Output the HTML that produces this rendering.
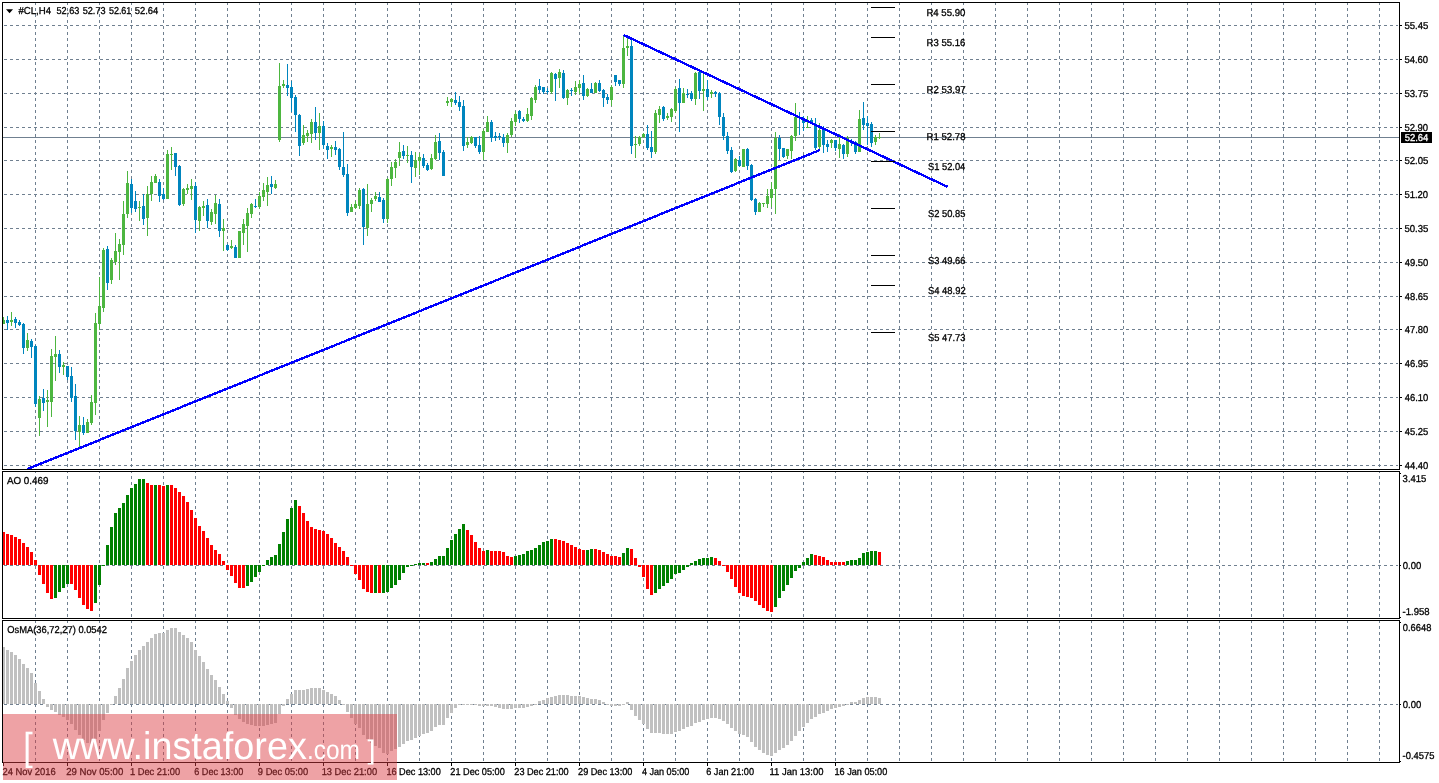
<!DOCTYPE html>
<html lang="en"><head><meta charset="utf-8"><title>#CL,H4</title>
<style>html,body{margin:0;padding:0;background:#fff;overflow:hidden}svg{display:block}text{font-family:"Liberation Sans",Arial,sans-serif;font-size:10px;fill:#000;stroke:#000;stroke-width:0.3px;text-rendering:geometricPrecision}.g{stroke:#708090;stroke-width:1;fill:none;shape-rendering:crispEdges}.k{stroke:#000;stroke-width:1;fill:none;shape-rendering:crispEdges}.c{shape-rendering:crispEdges}</style></head><body>
<svg width="1439" height="783" viewBox="0 0 1439 783">
<rect width="1439" height="783" fill="#fff"/>
<path class="g" stroke-dasharray="3 3" d="M35.5 2V762M67.5 2V762M99.5 2V762M131.5 2V762M163.5 2V762M195.5 2V762M227.5 2V762M259.5 2V762M291.5 2V762M323.5 2V762M355.5 2V762M387.5 2V762M419.5 2V762M451.5 2V762M483.5 2V762M515.5 2V762M547.5 2V762M579.5 2V762M611.5 2V762M643.5 2V762M675.5 2V762M707.5 2V762M739.5 2V762M771.5 2V762M803.5 2V762M835.5 2V762M867.5 2V762M899.5 2V762M931.5 2V762M963.5 2V762M995.5 2V762M1027.5 2V762M1059.5 2V762M1091.5 2V762M1123.5 2V762M1155.5 2V762M1187.5 2V762M1219.5 2V762M1251.5 2V762M1283.5 2V762M1315.5 2V762M1347.5 2V762M1379.5 2V762"/>
<path class="c" fill="#fff" d="M0 470h1439v1h-1439zM0 619h1439v1h-1439z"/>
<path class="g" stroke-dasharray="3 3" d="M4 25.5H1398M4 59.5H1398M4 93.5H1398M4 127.5H1398M4 160.5H1398M4 194.5H1398M4 228.5H1398M4 262.5H1398M4 296.5H1398M4 329.5H1398M4 363.5H1398M4 397.5H1398M4 431.5H1398M4 465.5H1398M4 565.5H1398M4 704.5H1398"/>
<path class="g" d="M3 137.5H1399"/>
<path class="c" fill="#4DB640" d="M3 317h1v7h-1zM3 320h2v4h-2zM11 312h1v14h-1zM10 320h3v2h-3zM27 333h1v18h-1zM26 340h3v8h-3zM39 396h1v40h-1zM38 399h3v19h-3zM47 390h1v37h-1zM46 400h3v2h-3zM51 349h1v68h-1zM50 356h3v46h-3zM55 336h1v45h-1zM54 354h3v3h-3zM63 362h1v13h-1zM62 365h3v2h-3zM79 416h1v31h-1zM78 425h3v7h-3zM87 419h1v14h-1zM86 422h3v11h-3zM91 395h1v30h-1zM90 402h3v21h-3zM95 313h1v102h-1zM94 323h3v80h-3zM99 277h1v53h-1zM98 306h3v18h-3zM103 248h1v64h-1zM102 250h3v58h-3zM111 258h1v26h-1zM110 260h3v20h-3zM115 233h1v32h-1zM114 251h3v11h-3zM119 239h1v41h-1zM118 244h3v8h-3zM123 201h1v54h-1zM122 214h3v31h-3zM127 171h1v47h-1zM126 183h3v31h-3zM139 201h1v20h-1zM138 207h3v1h-3zM147 186h1v50h-1zM146 194h3v24h-3zM151 176h1v25h-1zM150 182h3v12h-3zM155 174h1v9h-1zM154 176h3v7h-3zM167 150h1v49h-1zM166 154h3v45h-3zM171 147h1v23h-1zM170 154h3v1h-3zM183 188h1v18h-1zM182 189h3v15h-3zM187 184h1v10h-1zM186 188h3v2h-3zM191 179h1v21h-1zM190 186h3v3h-3zM199 206h1v25h-1zM198 207h3v14h-3zM203 201h1v15h-1zM202 206h3v2h-3zM211 209h1v16h-1zM210 212h3v10h-3zM215 195h1v29h-1zM214 203h3v11h-3zM223 219h1v32h-1zM222 228h3v3h-3zM231 240h1v9h-1zM230 246h3v2h-3zM239 231h1v27h-1zM238 231h3v27h-3zM243 219h1v26h-1zM242 224h3v9h-3zM247 208h1v44h-1zM246 213h3v13h-3zM251 203h1v15h-1zM250 204h3v10h-3zM259 192h1v17h-1zM258 196h3v11h-3zM263 183h1v18h-1zM262 190h3v7h-3zM267 177h1v29h-1zM266 185h3v7h-3zM275 180h1v9h-1zM274 184h3v4h-3zM279 63h1v79h-1zM278 86h3v54h-3zM283 80h1v8h-1zM282 84h3v2h-3zM303 125h1v20h-1zM302 135h3v8h-3zM307 130h1v12h-1zM306 133h3v3h-3zM311 119h1v24h-1zM310 122h3v12h-3zM319 113h1v37h-1zM318 126h3v7h-3zM331 145h1v12h-1zM330 147h3v2h-3zM351 204h1v8h-1zM350 207h3v5h-3zM355 201h1v8h-1zM354 204h3v4h-3zM359 188h1v21h-1zM358 190h3v16h-3zM367 184h1v52h-1zM366 204h3v24h-3zM371 198h1v14h-1zM370 200h3v4h-3zM375 192h1v9h-1zM374 196h3v3h-3zM387 178h1v45h-1zM386 179h3v40h-3zM391 162h1v24h-1zM390 167h3v12h-3zM395 159h1v19h-1zM394 162h3v6h-3zM399 142h1v24h-1zM398 152h3v6h-3zM407 146h1v17h-1zM406 155h3v1h-3zM415 152h1v25h-1zM414 160h3v8h-3zM419 153h1v22h-1zM418 157h3v4h-3zM431 154h1v16h-1zM430 158h3v11h-3zM435 135h1v25h-1zM434 142h3v17h-3zM447 97h1v9h-1zM446 101h3v2h-3zM451 98h1v9h-1zM450 99h3v3h-3zM467 137h1v11h-1zM466 142h3v3h-3zM471 136h1v8h-1zM470 137h3v6h-3zM483 129h1v31h-1zM482 131h3v21h-3zM487 116h1v16h-1zM486 122h3v10h-3zM507 133h1v20h-1zM506 135h3v8h-3zM511 118h1v19h-1zM510 121h3v14h-3zM515 111h1v15h-1zM514 114h3v8h-3zM527 108h1v14h-1zM526 114h3v7h-3zM531 97h1v23h-1zM530 98h3v18h-3zM535 85h1v18h-1zM534 87h3v13h-3zM551 72h1v22h-1zM550 73h3v19h-3zM559 69h1v19h-1zM558 72h3v6h-3zM567 89h1v16h-1zM566 90h3v8h-3zM575 81h1v14h-1zM574 87h3v5h-3zM579 80h1v14h-1zM578 84h3v4h-3zM587 88h1v9h-1zM586 89h3v7h-3zM595 82h1v11h-1zM594 83h3v10h-3zM611 85h1v21h-1zM610 87h3v13h-3zM623 35h1v53h-1zM622 48h3v36h-3zM627 38h1v18h-1zM626 46h3v2h-3zM635 136h1v22h-1zM634 144h3v1h-3zM639 136h1v10h-1zM638 137h3v7h-3zM643 133h1v5h-1zM642 134h3v3h-3zM655 110h1v44h-1zM654 113h3v39h-3zM659 106h1v17h-1zM658 109h3v6h-3zM667 113h1v7h-1zM666 116h3v2h-3zM671 108h1v14h-1zM670 109h3v8h-3zM675 87h1v26h-1zM674 89h3v22h-3zM683 88h1v15h-1zM682 93h3v10h-3zM695 72h1v33h-1zM694 73h3v26h-3zM703 73h1v38h-1zM702 89h3v2h-3zM711 90h1v8h-1zM710 92h3v2h-3zM735 158h1v14h-1zM734 159h3v12h-3zM743 149h1v18h-1zM742 149h3v18h-3zM759 202h1v10h-1zM758 203h3v9h-3zM763 203h1v4h-1zM762 203h3v1h-3zM767 189h1v19h-1zM766 196h3v8h-3zM771 182h1v25h-1zM770 189h3v9h-3zM775 132h1v82h-1zM774 138h3v51h-3zM787 149h1v10h-1zM786 149h3v7h-3zM791 135h1v24h-1zM790 136h3v15h-3zM795 103h1v38h-1zM794 117h3v19h-3zM807 116h1v12h-1zM806 127h3v1h-3zM819 123h1v26h-1zM818 130h3v17h-3zM831 139h1v9h-1zM830 140h3v3h-3zM839 134h1v24h-1zM838 144h3v5h-3zM847 136h1v21h-1zM846 138h3v16h-3zM859 110h1v42h-1zM858 119h3v33h-3zM875 135h1v10h-1zM874 137h3v5h-3zM879 133h1v6h-1zM878 137h3v1h-3z"/>
<path class="c" fill="#0085BE" d="M7 316h1v14h-1zM6 320h3v3h-3zM15 317h1v11h-1zM14 319h3v4h-3zM19 320h1v6h-1zM18 322h3v3h-3zM23 323h1v31h-1zM22 324h3v24h-3zM31 339h1v19h-1zM30 341h3v6h-3zM35 345h1v62h-1zM34 346h3v58h-3zM43 389h1v22h-1zM42 398h3v5h-3zM59 350h1v23h-1zM58 354h3v13h-3zM67 366h1v14h-1zM66 366h3v11h-3zM71 367h1v35h-1zM70 376h3v22h-3zM75 384h1v56h-1zM74 396h3v35h-3zM83 417h1v18h-1zM82 425h3v8h-3zM107 246h1v44h-1zM106 249h3v34h-3zM131 179h1v34h-1zM130 184h3v24h-3zM135 191h1v21h-1zM134 201h3v8h-3zM143 194h1v31h-1zM142 206h3v13h-3zM159 179h1v23h-1zM158 182h3v14h-3zM163 188h1v12h-1zM162 194h3v5h-3zM175 153h1v23h-1zM174 153h3v14h-3zM179 165h1v41h-1zM178 166h3v39h-3zM195 182h1v51h-1zM194 186h3v34h-3zM207 199h1v29h-1zM206 205h3v16h-3zM219 199h1v38h-1zM218 204h3v27h-3zM227 244h1v7h-1zM226 245h3v5h-3zM235 245h1v13h-1zM234 247h3v11h-3zM255 199h1v9h-1zM254 206h3v1h-3zM271 176h1v18h-1zM270 184h3v3h-3zM287 64h1v32h-1zM286 85h3v3h-3zM291 81h1v31h-1zM290 87h3v11h-3zM295 95h1v37h-1zM294 97h3v18h-3zM299 114h1v42h-1zM298 115h3v31h-3zM315 107h1v33h-1zM314 122h3v11h-3zM323 121h1v28h-1zM322 126h3v19h-3zM327 143h1v16h-1zM326 146h3v4h-3zM335 141h1v14h-1zM334 147h3v3h-3zM339 148h1v22h-1zM338 149h3v18h-3zM343 132h1v45h-1zM342 167h3v8h-3zM347 164h1v52h-1zM346 174h3v39h-3zM363 188h1v57h-1zM362 189h3v38h-3zM379 192h1v10h-1zM378 197h3v5h-3zM383 198h1v25h-1zM382 200h3v19h-3zM403 145h1v14h-1zM402 151h3v5h-3zM411 151h1v32h-1zM410 155h3v12h-3zM423 154h1v14h-1zM422 158h3v8h-3zM427 163h1v8h-1zM426 165h3v5h-3zM439 133h1v27h-1zM438 141h3v12h-3zM443 150h1v26h-1zM442 152h3v24h-3zM455 92h1v13h-1zM454 100h3v3h-3zM459 96h1v15h-1zM458 102h3v5h-3zM463 100h1v51h-1zM462 106h3v40h-3zM475 137h1v11h-1zM474 137h3v9h-3zM479 136h1v18h-1zM478 145h3v7h-3zM491 120h1v22h-1zM490 122h3v16h-3zM495 132h1v9h-1zM494 136h3v2h-3zM499 133h1v7h-1zM498 136h3v1h-3zM503 134h1v13h-1zM502 137h3v6h-3zM519 110h1v13h-1zM518 111h3v8h-3zM523 117h1v5h-1zM522 119h3v2h-3zM539 79h1v14h-1zM538 86h3v4h-3zM543 87h1v7h-1zM542 87h3v5h-3zM547 88h1v6h-1zM546 91h3v1h-3zM555 73h1v28h-1zM554 74h3v5h-3zM563 70h1v29h-1zM562 73h3v25h-3zM571 88h1v8h-1zM570 90h3v1h-3zM583 75h1v25h-1zM582 83h3v13h-3zM591 83h1v10h-1zM590 89h3v4h-3zM599 80h1v12h-1zM598 83h3v8h-3zM603 89h1v18h-1zM602 90h3v8h-3zM607 94h1v10h-1zM606 97h3v3h-3zM615 75h1v11h-1zM614 75h3v7h-3zM619 80h1v6h-1zM618 80h3v4h-3zM631 40h1v114h-1zM630 46h3v100h-3zM647 125h1v25h-1zM646 134h3v14h-3zM651 131h1v27h-1zM650 147h3v5h-3zM663 106h1v15h-1zM662 107h3v12h-3zM679 79h1v53h-1zM678 88h3v15h-3zM687 89h1v9h-1zM686 94h3v1h-3zM691 91h1v10h-1zM690 93h3v6h-3zM699 72h1v27h-1zM698 72h3v19h-3zM707 80h1v20h-1zM706 89h3v8h-3zM715 91h1v6h-1zM714 92h3v2h-3zM719 92h1v33h-1zM718 93h3v24h-3zM723 113h1v27h-1zM722 117h3v19h-3zM727 132h1v22h-1zM726 136h3v15h-3zM731 147h1v26h-1zM730 150h3v22h-3zM739 156h1v11h-1zM738 160h3v6h-3zM747 148h1v22h-1zM746 149h3v17h-3zM751 164h1v37h-1zM750 165h3v35h-3zM755 198h1v17h-1zM754 199h3v13h-3zM779 135h1v25h-1zM778 138h3v11h-3zM783 148h1v10h-1zM782 148h3v9h-3zM799 112h1v23h-1zM798 117h3v1h-3zM803 116h1v15h-1zM802 120h3v3h-3zM811 118h1v6h-1zM810 120h3v3h-3zM815 118h1v32h-1zM814 126h3v22h-3zM823 126h1v27h-1zM822 129h3v16h-3zM827 140h1v12h-1zM826 144h3v3h-3zM835 140h1v11h-1zM834 140h3v8h-3zM843 144h1v15h-1zM842 145h3v9h-3zM851 139h1v7h-1zM850 141h3v1h-3zM855 141h1v13h-1zM854 142h3v10h-3zM863 102h1v28h-1zM862 118h3v7h-3zM867 116h1v29h-1zM866 123h3v3h-3zM871 122h1v25h-1zM870 124h3v19h-3z"/>
<path class="c" fill="#FF0000" d="M3 532h2v33h-2zM6 534h3v31h-3zM10 535h3v30h-3zM14 537h3v28h-3zM18 539h3v26h-3zM22 543h3v22h-3zM26 547h3v18h-3zM30 552h3v13h-3zM34 560h3v5h-3zM38 565h3v10h-3zM42 565h3v19h-3zM46 565h3v28h-3zM50 565h3v34h-3zM70 565h3v19h-3zM74 565h3v25h-3zM78 565h3v33h-3zM82 565h3v40h-3zM86 565h3v44h-3zM90 565h3v46h-3zM146 483h3v82h-3zM150 485h3v80h-3zM158 485h3v80h-3zM162 486h3v79h-3zM170 485h3v80h-3zM174 488h3v77h-3zM178 492h3v73h-3zM182 496h3v69h-3zM186 502h3v63h-3zM190 510h3v55h-3zM194 518h3v47h-3zM198 526h3v39h-3zM202 531h3v34h-3zM206 538h3v27h-3zM210 545h3v20h-3zM214 550h3v15h-3zM218 554h3v11h-3zM222 561h3v4h-3zM226 565h3v5h-3zM230 565h3v11h-3zM234 565h3v18h-3zM238 565h3v23h-3zM242 565h3v23h-3zM298 506h3v59h-3zM302 513h3v52h-3zM306 521h3v44h-3zM310 527h3v38h-3zM314 529h3v36h-3zM318 530h3v35h-3zM322 531h3v34h-3zM326 534h3v31h-3zM330 538h3v27h-3zM334 543h3v22h-3zM338 547h3v18h-3zM342 551h3v14h-3zM346 557h3v8h-3zM350 565h3v1h-3zM354 565h3v9h-3zM358 565h3v15h-3zM362 565h3v24h-3zM366 565h3v27h-3zM370 565h3v28h-3zM378 565h3v28h-3zM426 563h3v2h-3zM466 530h3v35h-3zM470 535h3v30h-3zM474 542h3v23h-3zM478 548h3v17h-3zM482 551h3v14h-3zM490 551h3v14h-3zM494 551h3v14h-3zM498 551h3v14h-3zM502 552h3v13h-3zM506 556h3v9h-3zM510 557h3v8h-3zM554 539h3v26h-3zM558 540h3v25h-3zM562 541h3v24h-3zM566 543h3v22h-3zM570 545h3v20h-3zM574 547h3v18h-3zM578 549h3v16h-3zM582 550h3v15h-3zM594 549h3v16h-3zM598 550h3v15h-3zM602 552h3v13h-3zM606 554h3v11h-3zM610 556h3v9h-3zM614 556h3v9h-3zM618 557h3v8h-3zM630 549h3v16h-3zM634 558h3v7h-3zM638 565h3v2h-3zM642 565h3v12h-3zM646 565h3v24h-3zM650 565h3v30h-3zM714 558h3v7h-3zM718 561h3v4h-3zM722 565h3v1h-3zM726 565h3v7h-3zM730 565h3v14h-3zM734 565h3v22h-3zM738 565h3v28h-3zM742 565h3v31h-3zM746 565h3v32h-3zM750 565h3v33h-3zM754 565h3v36h-3zM758 565h3v40h-3zM762 565h3v43h-3zM766 565h3v46h-3zM770 565h3v47h-3zM814 555h3v10h-3zM818 556h3v9h-3zM822 557h3v8h-3zM826 560h3v5h-3zM830 562h3v3h-3zM834 562h3v3h-3zM838 562h3v3h-3zM842 562h3v3h-3zM878 552h3v13h-3z"/>
<path class="c" fill="#008000" d="M54 565h3v33h-3zM58 565h3v27h-3zM62 565h3v23h-3zM66 565h3v19h-3zM94 565h3v38h-3zM98 565h3v20h-3zM102 565h3v1h-3zM106 545h3v20h-3zM110 527h3v38h-3zM114 513h3v52h-3zM118 508h3v57h-3zM122 503h3v62h-3zM126 495h3v70h-3zM130 488h3v77h-3zM134 484h3v81h-3zM138 479h3v86h-3zM142 479h3v86h-3zM154 485h3v80h-3zM166 485h3v80h-3zM246 565h3v21h-3zM250 565h3v17h-3zM254 565h3v12h-3zM258 565h3v7h-3zM262 565h3v1h-3zM266 560h3v5h-3zM270 557h3v8h-3zM274 555h3v10h-3zM278 544h3v21h-3zM282 532h3v33h-3zM286 519h3v46h-3zM290 508h3v57h-3zM294 500h3v65h-3zM374 565h3v28h-3zM382 565h3v28h-3zM386 565h3v27h-3zM390 565h3v23h-3zM394 565h3v20h-3zM398 565h3v15h-3zM402 565h3v8h-3zM406 565h3v2h-3zM410 565h3v1h-3zM414 564h3v1h-3zM418 563h3v2h-3zM422 563h3v2h-3zM430 562h3v3h-3zM434 559h3v6h-3zM438 556h3v9h-3zM442 556h3v9h-3zM446 548h3v17h-3zM450 540h3v25h-3zM454 534h3v31h-3zM458 529h3v36h-3zM462 524h3v41h-3zM486 550h3v15h-3zM514 556h3v9h-3zM518 555h3v10h-3zM522 554h3v11h-3zM526 551h3v14h-3zM530 550h3v15h-3zM534 548h3v17h-3zM538 545h3v20h-3zM542 542h3v23h-3zM546 541h3v24h-3zM550 539h3v26h-3zM586 550h3v15h-3zM590 549h3v16h-3zM622 553h3v12h-3zM626 548h3v17h-3zM654 565h3v28h-3zM658 565h3v24h-3zM662 565h3v21h-3zM666 565h3v18h-3zM670 565h3v14h-3zM674 565h3v9h-3zM678 565h3v8h-3zM682 565h3v5h-3zM686 565h3v2h-3zM690 563h3v2h-3zM694 561h3v4h-3zM698 559h3v6h-3zM702 558h3v7h-3zM706 558h3v7h-3zM710 557h3v8h-3zM774 565h3v42h-3zM778 565h3v33h-3zM782 565h3v26h-3zM786 565h3v20h-3zM790 565h3v13h-3zM794 565h3v6h-3zM798 565h3v3h-3zM802 562h3v3h-3zM806 558h3v7h-3zM810 554h3v11h-3zM846 561h3v4h-3zM850 560h3v5h-3zM854 560h3v5h-3zM858 558h3v7h-3zM862 553h3v12h-3zM866 552h3v13h-3zM870 551h3v14h-3zM874 551h3v14h-3z"/>
<path class="c" fill="#C0C0C0" d="M3 647h2v57h-2zM6 650h3v54h-3zM10 652h3v52h-3zM14 655h3v49h-3zM18 659h3v45h-3zM22 664h3v40h-3zM26 668h3v36h-3zM30 673h3v31h-3zM34 683h3v21h-3zM38 691h3v13h-3zM42 699h3v5h-3zM46 704h3v3h-3zM50 704h3v6h-3zM54 704h3v8h-3zM58 704h3v11h-3zM62 704h3v13h-3zM66 704h3v16h-3zM70 704h3v20h-3zM74 704h3v26h-3zM78 704h3v31h-3zM82 704h3v36h-3zM86 704h3v39h-3zM90 704h3v40h-3zM94 704h3v35h-3zM98 704h3v27h-3zM102 704h3v16h-3zM106 704h3v9h-3zM110 704h3v1h-3zM114 696h3v8h-3zM118 688h3v16h-3zM122 679h3v25h-3zM126 668h3v36h-3zM130 661h3v43h-3zM134 655h3v49h-3zM138 650h3v54h-3zM142 646h3v58h-3zM146 642h3v62h-3zM150 638h3v66h-3zM154 634h3v70h-3zM158 633h3v71h-3zM162 633h3v71h-3zM166 630h3v74h-3zM170 628h3v76h-3zM174 628h3v76h-3zM178 632h3v72h-3zM182 635h3v69h-3zM186 638h3v66h-3zM190 642h3v62h-3zM194 650h3v54h-3zM198 656h3v48h-3zM202 662h3v42h-3zM206 669h3v35h-3zM210 675h3v29h-3zM214 680h3v24h-3zM218 687h3v17h-3zM222 694h3v10h-3zM226 701h3v3h-3zM230 704h3v4h-3zM234 704h3v11h-3zM238 704h3v15h-3zM242 704h3v18h-3zM246 704h3v20h-3zM250 704h3v21h-3zM254 704h3v22h-3zM258 704h3v22h-3zM262 704h3v22h-3zM266 704h3v21h-3zM270 704h3v20h-3zM274 704h3v19h-3zM278 704h3v10h-3zM282 704h3v2h-3zM286 699h3v5h-3zM290 694h3v10h-3zM294 690h3v14h-3zM298 690h3v14h-3zM302 690h3v14h-3zM306 689h3v15h-3zM310 688h3v16h-3zM314 688h3v16h-3zM318 688h3v16h-3zM322 690h3v14h-3zM326 692h3v12h-3zM330 694h3v10h-3zM334 696h3v8h-3zM338 700h3v4h-3zM342 704h3v1h-3zM346 704h3v8h-3zM350 704h3v14h-3zM354 704h3v20h-3zM358 704h3v24h-3zM362 704h3v31h-3zM366 704h3v35h-3zM370 704h3v39h-3zM374 704h3v42h-3zM378 704h3v44h-3zM382 704h3v49h-3zM386 704h3v50h-3zM390 704h3v47h-3zM394 704h3v45h-3zM398 704h3v43h-3zM402 704h3v40h-3zM406 704h3v37h-3zM410 704h3v36h-3zM414 704h3v34h-3zM418 704h3v32h-3zM422 704h3v30h-3zM426 704h3v29h-3zM430 704h3v27h-3zM434 704h3v23h-3zM438 704h3v21h-3zM442 704h3v21h-3zM446 704h3v14h-3zM450 704h3v9h-3zM454 704h3v4h-3zM458 704h3v1h-3zM462 704h3v1h-3zM466 704h3v1h-3zM470 704h3v1h-3zM474 704h3v1h-3zM478 704h3v2h-3zM482 704h3v2h-3zM486 704h3v2h-3zM490 704h3v2h-3zM494 704h3v3h-3zM498 704h3v4h-3zM502 704h3v5h-3zM506 704h3v5h-3zM510 704h3v5h-3zM514 704h3v4h-3zM518 704h3v4h-3zM522 704h3v4h-3zM526 704h3v3h-3zM530 704h3v2h-3zM534 704h3v1h-3zM538 701h3v3h-3zM542 700h3v4h-3zM546 698h3v6h-3zM550 697h3v7h-3zM554 696h3v8h-3zM558 695h3v9h-3zM562 695h3v9h-3zM566 695h3v9h-3zM570 696h3v8h-3zM574 696h3v8h-3zM578 696h3v8h-3zM582 697h3v7h-3zM586 698h3v6h-3zM590 699h3v5h-3zM594 699h3v5h-3zM598 700h3v4h-3zM602 702h3v2h-3zM606 704h3v1h-3zM610 704h3v2h-3zM614 704h3v2h-3zM618 704h3v2h-3zM622 704h3v1h-3zM626 702h3v2h-3zM630 704h3v6h-3zM634 704h3v12h-3zM638 704h3v16h-3zM642 704h3v20h-3zM646 704h3v25h-3zM650 704h3v29h-3zM654 704h3v29h-3zM658 704h3v29h-3zM662 704h3v30h-3zM666 704h3v30h-3zM670 704h3v30h-3zM674 704h3v28h-3zM678 704h3v27h-3zM682 704h3v25h-3zM686 704h3v23h-3zM690 704h3v22h-3zM694 704h3v19h-3zM698 704h3v18h-3zM702 704h3v16h-3zM706 704h3v15h-3zM710 704h3v14h-3zM714 704h3v14h-3zM718 704h3v15h-3zM722 704h3v17h-3zM726 704h3v20h-3zM730 704h3v24h-3zM734 704h3v27h-3zM738 704h3v30h-3zM742 704h3v31h-3zM746 704h3v33h-3zM750 704h3v38h-3zM754 704h3v43h-3zM758 704h3v46h-3zM762 704h3v49h-3zM766 704h3v51h-3zM770 704h3v52h-3zM774 704h3v49h-3zM778 704h3v46h-3zM782 704h3v44h-3zM786 704h3v41h-3zM790 704h3v37h-3zM794 704h3v32h-3zM798 704h3v27h-3zM802 704h3v23h-3zM806 704h3v19h-3zM810 704h3v15h-3zM814 704h3v13h-3zM818 704h3v10h-3zM822 704h3v9h-3zM826 704h3v7h-3zM830 704h3v5h-3zM834 704h3v4h-3zM838 704h3v3h-3zM842 704h3v2h-3zM846 704h3v1h-3zM850 702h3v2h-3zM854 702h3v2h-3zM858 700h3v4h-3zM862 698h3v6h-3zM866 697h3v7h-3zM870 697h3v7h-3zM874 697h3v7h-3zM878 698h3v6h-3z"/>
<path d="M27.5 469L820 150M623.5 34.9L947.5 186.8" stroke="#0000FF" stroke-width="2.4" fill="none" shape-rendering="crispEdges"/>
<path class="k" d="M871 7.5H895M871 37.5H895M871 84.5H895M871 131.5H895M871 161.5H895M871 208.5H895M871 255.5H895M871 285.5H895M871 332.5H895"/>
<path class="k" d="M2.5 2.5H1399.5V469.5H2.5zM2.5 471.5H1399.5V618.5H2.5zM2.5 620.5H1399.5V762.5H2.5z"/>
<path class="k" d="M1400 25.5H1402M1400 59.5H1402M1400 93.5H1402M1400 127.5H1402M1400 160.5H1402M1400 194.5H1402M1400 228.5H1402M1400 262.5H1402M1400 296.5H1402M1400 329.5H1402M1400 363.5H1402M1400 397.5H1402M1400 431.5H1402M1400 465.5H1402M1400 473.5H1401M1400 565.5H1401M1400 617.5H1401M1400 622.5H1401M1400 704.5H1401M1400 761.5H1401M3.5 763V766M67.5 763V766M131.5 763V766M195.5 763V766M259.5 763V766M323.5 763V766M387.5 763V766M451.5 763V766M515.5 763V766M579.5 763V766M643.5 763V766M707.5 763V766M771.5 763V766M835.5 763V766"/>
<rect class="c" x="1401" y="132" width="31" height="11" fill="#000"/>
<path d="M6 9.3H13L9.5 13.3z" fill="#000"/>
<text x="18.43" y="14" textLength="32.58" lengthAdjust="spacingAndGlyphs">#CL,H4</text>
<text x="56.5" y="14" textLength="22.85" lengthAdjust="spacingAndGlyphs">52.63</text>
<text x="82.7" y="14" textLength="22.85" lengthAdjust="spacingAndGlyphs">52.73</text>
<text x="108.94" y="14" textLength="22.38" lengthAdjust="spacingAndGlyphs">52.61</text>
<text x="134.72" y="14" textLength="23.56" lengthAdjust="spacingAndGlyphs">52.64</text>
<text x="6.89" y="484" textLength="41.52" lengthAdjust="spacingAndGlyphs">AO 0.469</text>
<text x="7.32" y="633" textLength="99.62" lengthAdjust="spacingAndGlyphs">OsMA(36,72,27) 0.0542</text>
<text x="1404.4" y="29" textLength="24.0" lengthAdjust="spacingAndGlyphs">55.45</text>
<text x="1404.42" y="63" textLength="23.74" lengthAdjust="spacingAndGlyphs">54.60</text>
<text x="1404.4" y="97" textLength="24.0" lengthAdjust="spacingAndGlyphs">53.75</text>
<text x="1404.42" y="131" textLength="23.74" lengthAdjust="spacingAndGlyphs">52.90</text>
<text x="1404.4" y="164" textLength="24.0" lengthAdjust="spacingAndGlyphs">52.05</text>
<text x="1404.42" y="198" textLength="23.74" lengthAdjust="spacingAndGlyphs">51.20</text>
<text x="1404.4" y="232" textLength="24.0" lengthAdjust="spacingAndGlyphs">50.35</text>
<text x="1404.76" y="266" textLength="23.59" lengthAdjust="spacingAndGlyphs">49.50</text>
<text x="1404.75" y="300" textLength="23.55" lengthAdjust="spacingAndGlyphs">48.65</text>
<text x="1404.76" y="333" textLength="23.59" lengthAdjust="spacingAndGlyphs">47.80</text>
<text x="1404.75" y="367" textLength="23.55" lengthAdjust="spacingAndGlyphs">46.95</text>
<text x="1404.76" y="401" textLength="23.59" lengthAdjust="spacingAndGlyphs">46.10</text>
<text x="1404.75" y="435" textLength="23.55" lengthAdjust="spacingAndGlyphs">45.25</text>
<text x="1404.76" y="469" textLength="23.59" lengthAdjust="spacingAndGlyphs">44.40</text>
<text x="1404.64" y="141" textLength="23.79" lengthAdjust="spacingAndGlyphs" style="fill:#fff;stroke:#fff">52.64</text>
<text x="1402.62" y="482" textLength="23.77" lengthAdjust="spacingAndGlyphs">3.415</text>
<text x="1402.83" y="569" textLength="18.5" lengthAdjust="spacingAndGlyphs">0.00</text>
<text x="1402.58" y="615" textLength="27.02" lengthAdjust="spacingAndGlyphs">-1.958</text>
<text x="1402.83" y="631" textLength="28.55" lengthAdjust="spacingAndGlyphs">0.6648</text>
<text x="1402.83" y="708" textLength="18.5" lengthAdjust="spacingAndGlyphs">0.00</text>
<text x="1402.59" y="759" textLength="31.87" lengthAdjust="spacingAndGlyphs">-0.4575</text>
<text x="2.51" y="775" textLength="53.23" lengthAdjust="spacingAndGlyphs">24 Nov 2016</text>
<text x="66.13" y="775" textLength="57.13" lengthAdjust="spacingAndGlyphs">29 Nov 05:00</text>
<text x="129.97" y="775" textLength="50.16" lengthAdjust="spacingAndGlyphs">1 Dec 21:00</text>
<text x="194.24" y="775" textLength="49.09" lengthAdjust="spacingAndGlyphs">6 Dec 13:00</text>
<text x="257.87" y="775" textLength="50.28" lengthAdjust="spacingAndGlyphs">9 Dec 05:00</text>
<text x="321.67" y="775" textLength="55.42" lengthAdjust="spacingAndGlyphs">13 Dec 21:00</text>
<text x="386.38" y="775" textLength="54.42" lengthAdjust="spacingAndGlyphs">16 Dec 13:00</text>
<text x="450.32" y="775" textLength="54.45" lengthAdjust="spacingAndGlyphs">21 Dec 05:00</text>
<text x="514.3" y="775" textLength="54.36" lengthAdjust="spacingAndGlyphs">23 Dec 21:00</text>
<text x="578.05" y="775" textLength="54.36" lengthAdjust="spacingAndGlyphs">29 Dec 13:00</text>
<text x="641.9" y="775" textLength="47.42" lengthAdjust="spacingAndGlyphs">4 Jan 05:00</text>
<text x="706.18" y="775" textLength="47.83" lengthAdjust="spacingAndGlyphs">6 Jan 21:00</text>
<text x="769.56" y="775" textLength="53.91" lengthAdjust="spacingAndGlyphs">11 Jan 13:00</text>
<text x="834.43" y="775" textLength="52.87" lengthAdjust="spacingAndGlyphs">16 Jan 05:00</text>
<text x="926.38" y="16" textLength="39.01" lengthAdjust="spacingAndGlyphs">R4 55.90</text>
<text x="926.61" y="46" textLength="38.76" lengthAdjust="spacingAndGlyphs">R3 55.16</text>
<text x="926.62" y="93" textLength="38.95" lengthAdjust="spacingAndGlyphs">R2 53.97</text>
<text x="926.61" y="140" textLength="38.92" lengthAdjust="spacingAndGlyphs">R1 52.78</text>
<text x="927.97" y="170" textLength="37.32" lengthAdjust="spacingAndGlyphs">S1 52.04</text>
<text x="927.98" y="217" textLength="37.38" lengthAdjust="spacingAndGlyphs">S2 50.85</text>
<text x="927.98" y="264" textLength="37.4" lengthAdjust="spacingAndGlyphs">S3 49.66</text>
<text x="927.98" y="294" textLength="37.68" lengthAdjust="spacingAndGlyphs">S4 48.92</text>
<text x="927.98" y="341" textLength="37.47" lengthAdjust="spacingAndGlyphs">S5 47.73</text>
<rect class="c" x="3" y="714" width="394" height="66" fill="rgb(219,60,66)" fill-opacity="0.476"/>
<g style="fill:#fff;stroke:none">
<text x="23.2" y="760.2" style="font-size:39px;fill:#fff;stroke:none" textLength="9.5" lengthAdjust="spacingAndGlyphs">[</text>
<text x="52.8" y="759.3" style="font-size:38.5px;fill:#fff;stroke:none" textLength="254" lengthAdjust="spacingAndGlyphs">www.instaforex</text>
<text x="307" y="759.3" style="font-size:27px;fill:#fff;stroke:none" textLength="53" lengthAdjust="spacingAndGlyphs">.com</text>
<text x="367.5" y="759.3" style="font-size:27px;fill:#fff;stroke:none" textLength="8" lengthAdjust="spacingAndGlyphs">]</text>
</g>
</svg></body></html>
